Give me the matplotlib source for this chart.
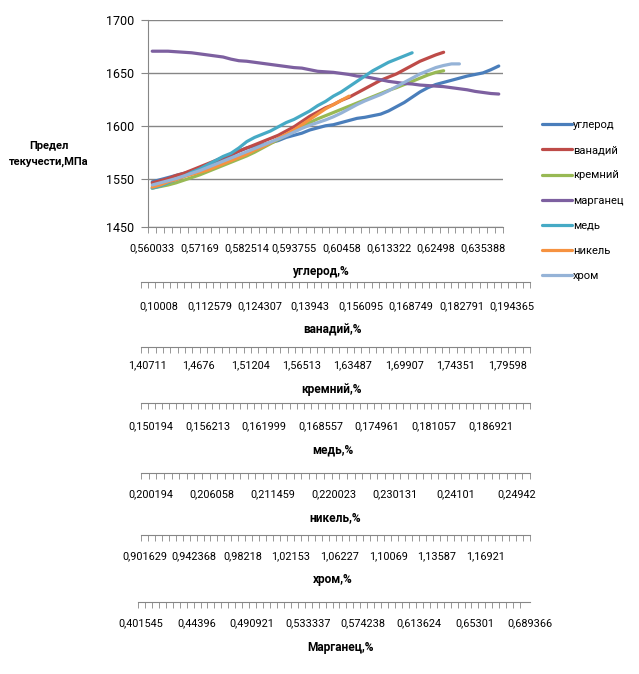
import numpy as np
import matplotlib.pyplot as plt

plt.rcParams['font.family'] = ['Roboto', 'DejaVu Sans']

W, H = 639, 674

# series (yield strength, MPa) per category index
uglerod = [1547, 1549, 1551, 1553, 1555, 1557, 1560, 1563, 1566, 1569, 1572, 1576, 1579, 1581, 1582,
           1584, 1586, 1589, 1591, 1593, 1596, 1598, 1600, 1601, 1603, 1605, 1607, 1608, 1609.5, 1611,
           1614, 1618, 1622, 1627, 1632, 1636, 1639, 1641, 1643, 1645, 1647, 1648.5, 1650, 1653, 1656.5]
vanadiy = [1546, 1548, 1550, 1553, 1555, 1558, 1561, 1564, 1567, 1570, 1573, 1576, 1579, 1582, 1585,
           1588, 1591, 1595, 1599, 1604, 1609, 1613, 1617, 1620, 1624, 1627, 1631, 1635, 1639, 1643,
           1646, 1649, 1653, 1657, 1661, 1664, 1667, 1669.5]
kremniy = [1541, 1542.5, 1544, 1546, 1548.5, 1551, 1553.5, 1556.5, 1559.5, 1562.5, 1565.5, 1568.5,
           1571.5, 1575, 1579, 1583, 1587, 1591, 1595, 1599, 1603, 1606.5, 1609.5, 1612.5, 1615.5,
           1618.5, 1621.5, 1624.5, 1627.5, 1630.5, 1633.5, 1636, 1639, 1642, 1645, 1648, 1650.5, 1652]
marganec = [1670.5, 1670.5, 1670.5, 1670, 1669.5, 1669, 1668, 1667, 1666, 1665, 1663, 1661.5, 1661,
            1660, 1659, 1658, 1657, 1656, 1655, 1654.5, 1653, 1651.5, 1651, 1650.5, 1649.5, 1648.5,
            1647, 1646.5, 1645, 1643.5, 1642, 1641, 1640, 1639.5, 1638.5, 1638, 1637.5, 1637, 1636,
            1635, 1634, 1632.5, 1631.5, 1630.5, 1630]
med = [1541, 1543, 1546, 1549, 1552, 1556, 1559, 1563, 1567, 1571, 1574, 1579, 1585, 1589, 1592,
       1595, 1599, 1603, 1606, 1610, 1614, 1619, 1623, 1628, 1632, 1637, 1642, 1647, 1652, 1656,
       1660, 1663, 1666, 1669]
nikel = [1542, 1544, 1547, 1549, 1552, 1554, 1556, 1558, 1561, 1564, 1567, 1570, 1573, 1577, 1580,
         1584, 1588, 1592, 1596, 1601, 1606, 1611, 1616, 1620, 1624, 1628]
hrom = [1544, 1546, 1548, 1550, 1552.5, 1555, 1557.5, 1560.5, 1563.5, 1566.5, 1569.5, 1572.5, 1575.5,
        1578.5, 1581.5, 1584.5, 1587.5, 1590.5, 1594, 1597.5, 1600.5, 1603, 1605.5, 1608.5, 1612,
        1616, 1620, 1623.5, 1626.5, 1629.5, 1633, 1637, 1641, 1645, 1649, 1652, 1655, 1657, 1658.5,
        1658.5]

series_names = ['углерод', 'ванадий', 'кремний', 'марганец', 'медь', 'никель', 'хром']
series_values = [uglerod, vanadiy, kremniy, marganec, med, nikel, hrom]
series_colors = ['#4A7EBB', '#BE4B48', '#98B954', '#7D60A0', '#46AAC5', '#F69240', '#95B3D7']

y_ticks = [1504, 1550, 1600, 1650, 1700]
y_tick_labels = ['1450', '1550', '1600', '1650', '1700']

# category axis labels
uglerod_labels = ['0,560033', '0,57169', '0,582514', '0,593755', '0,60458', '0,613322', '0,62498', '0,635388']
vanadiy_labels = ['0,10008', '0,112579', '0,124307', '0,13943', '0,156095', '0,168749', '0,182791', '0,194365']
kremniy_labels = ['1,40711', '1,4676', '1,51204', '1,56513', '1,63487', '1,69907', '1,74351', '1,79598']
med_labels = ['0,150194', '0,156213', '0,161999', '0,168557', '0,174961', '0,181057', '0,186921']
nikel_labels = ['0,200194', '0,206058', '0,211459', '0,220023', '0,230131', '0,24101', '0,24942']
hrom_labels = ['0,901629', '0,942368', '0,98218', '1,02153', '1,06227', '1,10069', '1,13587', '1,16921']
marg_labels = ['0,401545', '0,44396', '0,490921', '0,533337', '0,574238', '0,613624', '0,65301', '0,689366']

n_cat = 45
grey = '#868686'
tick_fs = 7.8
title_fs = 8.6


def fx(px):
    return px / W


def fy(py):
    return 1 - py / H


fig = plt.figure(figsize=(W / 100, H / 100), dpi=100)

# main plot
ax = fig.add_axes([fx(148.3), fy(227.3), (502.7 - 148.3) / W, (227.3 - 20) / H])
for name, vals, col in zip(series_names, series_values, series_colors):
    ax.plot(np.arange(len(vals)) + 0.5, vals, color=col, lw=2.3, label=name,
            solid_capstyle='round', solid_joinstyle='round')

ax.set_xlim(0, n_cat)
ax.set_ylim(y_ticks[0], y_ticks[-1])
ax.set_yticks(y_ticks)
ax.set_yticklabels(y_tick_labels, fontsize=9)
ax.yaxis.grid(True, color=grey, lw=1)
ax.set_axisbelow(True)
ax.set_xticks(np.arange(len(uglerod_labels)) * 6 + 0.5)
ax.set_xticklabels(uglerod_labels, fontsize=tick_fs)
ax.set_xticks(np.arange(n_cat + 1), minor=True)
ax.tick_params(axis='x', which='major', length=0, pad=(19.4 - 3.5) * 0.72)
ax.tick_params(axis='x', which='minor', length=4, color=grey, direction='out')
ax.tick_params(axis='y', length=5, color=grey, pad=5)
for s in ['top', 'right']:
    ax.spines[s].set_visible(False)
for s in ['left', 'bottom']:
    ax.spines[s].set_color(grey)

fig.text(fx(320), fy(272), 'углерод,%', fontsize=title_fs, fontweight='bold', ha='center', va='center')
fig.text(fx(48.5), fy(154), 'Предел\nтекучести,МПа', fontsize=8, fontweight='bold',
         ha='center', va='center', linespacing=1.6)

# stacked category axes below
extra_axes = [
    # labels, title, axis line y, label y, title y, title x, x0, x1, n ticks, first label, step
    (vanadiy_labels, 'ванадий,%', 282, 305, 330, 333, 141, 530, 54, 2.5, 7),
    (kremniy_labels, 'кремний,%', 347, 364, 390, 332, 141, 530, 53, 0.89, 7),
    (med_labels, 'медь,%', 403, 425, 450, 333, 141, 530, 55, 1.41, 8),
    (nikel_labels, 'никель,%', 473, 493, 518, 335, 141, 530, 51, 1.31, 8),
    (hrom_labels, 'хром,%', 535, 555, 580, 333, 141, 530, 56, 0.6, 7),
    (marg_labels, 'Марганец,%', 602, 622, 648, 341, 138, 530, 55, 0.42, 8),
]
for labels, title, ly, ty, tty, ttx, x0, x1, n, first, step in extra_axes:
    a = fig.add_axes([fx(x0), fy(ly), (x1 - x0) / W, 0.0001])
    a.patch.set_visible(False)
    for s in ['top', 'right', 'left']:
        a.spines[s].set_visible(False)
    a.spines['bottom'].set_color(grey)
    a.set_yticks([])
    a.set_xlim(0, n)
    a.set_xticks(first + np.arange(len(labels)) * step)
    a.set_xticklabels(labels, fontsize=tick_fs)
    a.set_xticks(np.arange(n + 1), minor=True)
    a.tick_params(axis='x', which='major', length=0, pad=(ty - ly - 3.5) * 0.72)
    a.tick_params(axis='x', which='minor', length=4, color=grey, direction='out')
    fig.text(fx(ttx), fy(tty), title, fontsize=title_fs, fontweight='bold', ha='center', va='center')

fig.legend(*ax.get_legend_handles_labels(), loc='upper left', bbox_to_anchor=(fx(532), fy(110)),
           frameon=False, fontsize=8, handlelength=2.7, handletextpad=0.1, labelspacing=1.37)

fig.savefig('out.png', dpi=100)
